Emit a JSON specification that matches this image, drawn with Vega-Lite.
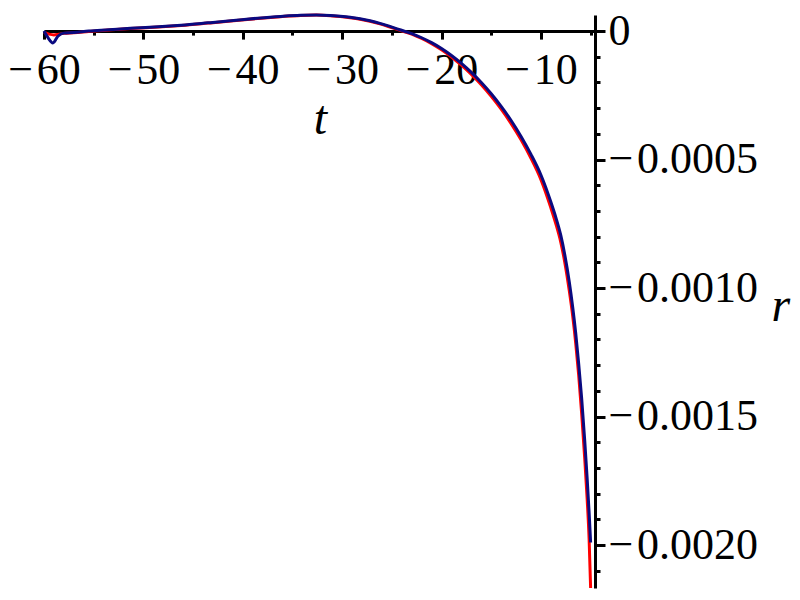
{
  "$schema": "https://vega.github.io/schema/vega-lite/v6.json",
  "autosize": {"type": "none"},
  "width": 551,
  "height": 573,
  "padding": {"left": 44, "top": 15, "right": 205, "bottom": 12},
  "background": "white",
  "config": {"view": {"stroke": null}},
  "datasets": {
    "red": [
      {"t": -60, "r": -0.000005},
      {"t": -59.5, "r": -0.000012},
      {"t": -59, "r": -0.000015},
      {"t": -58.5, "r": -0.000012},
      {"t": -58, "r": -0.000009},
      {"t": -57, "r": -0.000007},
      {"t": -55.5, "r": -0.000002},
      {"t": -53.5, "r": 0.000004},
      {"t": -51.3, "r": 0.00001},
      {"t": -48.5, "r": 0.000016},
      {"t": -46.2, "r": 0.000022},
      {"t": -43.5, "r": 0.000031},
      {"t": -41.2, "r": 0.000039},
      {"t": -38.5, "r": 0.000049},
      {"t": -36.2, "r": 0.000056},
      {"t": -34.2, "r": 0.000061},
      {"t": -32.6, "r": 0.0000622},
      {"t": -31.2, "r": 0.00006},
      {"t": -30.2, "r": 0.000057},
      {"t": -29.2, "r": 0.000052},
      {"t": -28.2, "r": 0.000046},
      {"t": -27.2, "r": 0.000038},
      {"t": -26.2, "r": 0.000028},
      {"t": -25.2, "r": 0.000016},
      {"t": -24.1, "r": 0.000002},
      {"t": -23, "r": -0.000012},
      {"t": -22, "r": -0.000029},
      {"t": -21, "r": -0.000049},
      {"t": -20, "r": -0.000073},
      {"t": -19, "r": -0.000101},
      {"t": -18, "r": -0.000133},
      {"t": -17, "r": -0.000169},
      {"t": -16, "r": -0.000209},
      {"t": -15, "r": -0.000254},
      {"t": -14, "r": -0.000304},
      {"t": -13, "r": -0.00036},
      {"t": -12, "r": -0.000423},
      {"t": -11, "r": -0.000495},
      {"t": -10, "r": -0.000578},
      {"t": -9, "r": -0.000688},
      {"t": -8.5, "r": -0.00075},
      {"t": -8.0, "r": -0.000822},
      {"t": -7.6, "r": -0.0009},
      {"t": -7.15, "r": -0.00101},
      {"t": -6.8, "r": -0.00111},
      {"t": -6.5, "r": -0.001215},
      {"t": -6.2, "r": -0.00134},
      {"t": -5.9, "r": -0.00149},
      {"t": -5.6, "r": -0.00166},
      {"t": -5.35, "r": -0.00182},
      {"t": -5.15, "r": -0.00198},
      {"t": -5.0, "r": -0.002167}
    ],
    "blue": [
      {"t": -60, "r": 0},
      {"t": -59.6, "r": -0.000026},
      {"t": -59.1, "r": -0.000046},
      {"t": -58.6, "r": -0.00002},
      {"t": -58, "r": -0.000008},
      {"t": -57, "r": -0.000006},
      {"t": -55.5, "r": 0},
      {"t": -53.5, "r": 0.000005},
      {"t": -51.3, "r": 0.000011},
      {"t": -48.5, "r": 0.000017},
      {"t": -46.2, "r": 0.000023},
      {"t": -43.5, "r": 0.000032},
      {"t": -41.2, "r": 0.00004},
      {"t": -38.5, "r": 0.00005},
      {"t": -36.2, "r": 0.000057},
      {"t": -34.2, "r": 0.0000615},
      {"t": -32.6, "r": 0.0000625},
      {"t": -31.2, "r": 0.000061},
      {"t": -30.2, "r": 0.000058},
      {"t": -29.2, "r": 0.000054},
      {"t": -28.2, "r": 0.000048},
      {"t": -27.2, "r": 0.00004},
      {"t": -26.2, "r": 0.00003},
      {"t": -25.2, "r": 0.000018},
      {"t": -24.1, "r": 0.000004},
      {"t": -23, "r": -0.00001},
      {"t": -22, "r": -0.000026},
      {"t": -21, "r": -0.000045},
      {"t": -20, "r": -0.000068},
      {"t": -19, "r": -0.000095},
      {"t": -18, "r": -0.000126},
      {"t": -17, "r": -0.000161},
      {"t": -16, "r": -0.0002},
      {"t": -15, "r": -0.000244},
      {"t": -14, "r": -0.000293},
      {"t": -13, "r": -0.000348},
      {"t": -12, "r": -0.00041},
      {"t": -11, "r": -0.00048},
      {"t": -10, "r": -0.00056},
      {"t": -9, "r": -0.000665},
      {"t": -8.5, "r": -0.000725},
      {"t": -8.0, "r": -0.000795},
      {"t": -7.6, "r": -0.00087},
      {"t": -7.15, "r": -0.000975},
      {"t": -6.8, "r": -0.001075},
      {"t": -6.5, "r": -0.001175},
      {"t": -6.2, "r": -0.001295},
      {"t": -5.9, "r": -0.00143},
      {"t": -5.6, "r": -0.00159},
      {"t": -5.35, "r": -0.00174},
      {"t": -5.15, "r": -0.001875},
      {"t": -5.0, "r": -0.00199}
    ]
  },
  "encoding": {
    "x": {
      "field": "t",
      "type": "quantitative",
      "scale": {"domain": [-60, -4.56], "nice": false, "zero": false},
      "axis": {
        "orient": "bottom",
        "offset": -556.9,
        "values": [-60, -55, -50, -45, -40, -35, -30, -25, -20, -15, -10, -5],
        "labelExpr": "datum.value % 10 === 0 ? '\u2212\u200a' + abs(datum.value) : ''",
        "grid": false,
        "domainColor": "black",
        "domainWidth": 3,
        "tickColor": "black",
        "tickWidth": 3,
        "tickSize": {"condition": {"test": "datum.value % 10 === 0", "value": 8}, "value": 4},
        "labelFont": "Liberation Serif",
        "labelFontSize": 44,
        "labelColor": "black",
        "labelBaseline": "alphabetic",
        "labelPadding": 44,
        "labelFlush": false,
        "labelOverlap": false,
        "title": "t",
        "titleFont": "Liberation Serif",
        "titleFontStyle": "italic",
        "titleFontWeight": "normal",
        "titleFontSize": 48,
        "titleColor": "black",
        "titleBaseline": "alphabetic",
        "titleX": 276,
        "titleY": 102
      }
    },
    "y": {
      "field": "r",
      "type": "quantitative",
      "scale": {"domain": [-0.002167, 0.0000625], "nice": false, "zero": false},
      "axis": {
        "orient": "right",
        "values": [0, -0.0001, -0.0002, -0.0003, -0.0004, -0.0005, -0.0006, -0.0007, -0.0008, -0.0009, -0.001, -0.0011, -0.0012, -0.0013, -0.0014, -0.0015, -0.0016, -0.0017, -0.0018, -0.0019, -0.002, -0.0021],
        "labelExpr": "abs(round(datum.value * 10000)) % 5 === 0 ? (datum.value === 0 ? '0' : '\u2212\u200a' + format(abs(datum.value), '.4f')) : ''",
        "grid": false,
        "domainColor": "black",
        "domainWidth": 3,
        "tickColor": "black",
        "tickWidth": 3,
        "tickSize": {"condition": {"test": "abs(round(datum.value * 10000)) % 5 === 0", "value": 10}, "value": 5},
        "labelFont": "Liberation Serif",
        "labelFontSize": 44,
        "labelColor": "black",
        "labelBaseline": "middle",
        "labelAlign": "left",
        "labelPadding": 3,
        "labelFlush": false,
        "labelOverlap": false,
        "title": "r",
        "titleAngle": 0,
        "titleFont": "Liberation Serif",
        "titleFontStyle": "italic",
        "titleFontWeight": "normal",
        "titleFontSize": 48,
        "titleColor": "black",
        "titleAlign": "left",
        "titleBaseline": "alphabetic",
        "titleX": 176,
        "titleY": 305
      }
    }
  },
  "layer": [
    {
      "data": {"name": "red"},
      "mark": {"type": "line", "color": "#ff0000", "strokeWidth": 3, "clip": false, "interpolate": "monotone"}
    },
    {
      "data": {"name": "blue"},
      "mark": {"type": "line", "color": "#0a0a80", "strokeWidth": 3, "clip": false, "interpolate": "monotone"}
    }
  ]
}
